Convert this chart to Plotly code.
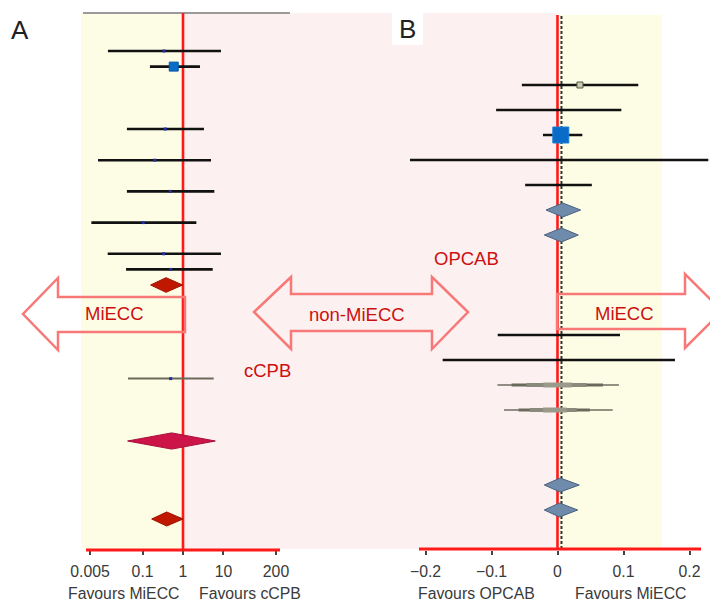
import plotly.graph_objects as go

W, H = 710, 602

# ---------------- Panel A data (odds ratio, log scale) ----------------
a_rows = [0, 1, 5, 7, 9, 11, 13, 14]
a_est = [0.34, 0.59, 0.365, 0.20, 0.485, 0.104, 0.333, 0.496]
a_lo = [0.0139, 0.152, 0.041, 0.0079, 0.041, 0.0054, 0.0137, 0.039]
a_hi = [8.7, 2.63, 3.3, 4.93, 5.96, 2.14, 8.7, 5.43]
a_big_idx = 1  # study with large weight

a_grey_row = [21]
a_grey_est = [0.496]
a_grey_lo = [0.0435]
a_grey_hi = [5.75]

a_dia_rows = [15, 25, 30]
a_dia_est = [0.38, 0.525, 0.395]
a_dia_lo = [0.158, 0.0426, 0.168]
a_dia_hi = [0.98, 6.3, 1.0]

a_ticks = [0.005, 0.1, 1, 10, 200]
a_ticktext = ["0.005", "0.1", "1", "10", "200"]

# ---------------- Panel B data (risk difference) ----------------
b_rows = [0, 1, 2, 3, 4, 10, 11]
b_est = [0.034, 0.006, 0.005, 0.0, 0.002, 0.005, 0.002]
b_lo = [-0.054, -0.093, -0.022, -0.2235, -0.049, -0.0906, -0.174]
b_hi = [0.1224, 0.0967, 0.0376, 0.2285, 0.052, 0.0947, 0.178]
b_big_idx = 2

b_fun_rows = [12, 13]
b_fun_lo = [-0.091, -0.081]
b_fun_hi = [0.093, 0.0836]
b_fun_seg1 = [(-0.0695, 0.069), (-0.059, 0.049)]
b_fun_seg2 = [(-0.047, 0.044), (-0.042, 0.029)]
b_fun_seg3 = [(-0.0215, 0.0215), (-0.022, 0.014)]

b_dia_rows = [5, 6, 16, 17]
b_dia_est = [0.008, 0.006, 0.004, 0.003]
b_dia_lo = [-0.0174, -0.02, -0.02, -0.02]
b_dia_hi = [0.035, 0.0315, 0.033, 0.0306]
b_overall = 0.006

b_ticks = [-0.2, -0.1, 0, 0.1, 0.2]
b_ticktext = ["\u22120.2", "\u22120.1", "0", "0.1", "0.2"]


def px(x, y):
    return x / W, 1 - y / H


fig = go.Figure()

# ---- Panel A traces
for i, r in enumerate(a_rows):
    fig.add_trace(go.Scatter(x=[a_lo[i], a_hi[i]], y=[r, r], mode="lines",
                             line=dict(color="#111111", width=2.6),
                             xaxis="x", yaxis="y", showlegend=False, hoverinfo="skip"))
fig.add_trace(go.Scatter(x=[a_est[i] for i in range(len(a_rows)) if i != a_big_idx],
                         y=[a_rows[i] for i in range(len(a_rows)) if i != a_big_idx],
                         mode="markers", marker=dict(symbol="square", size=3, color="#2030a0"),
                         xaxis="x", yaxis="y", showlegend=False))
fig.add_trace(go.Scatter(x=[a_est[a_big_idx]], y=[a_rows[a_big_idx]], mode="markers",
                         marker=dict(symbol="square", size=9, color="#0a6cc8",
                                     line=dict(color="#0a5aa8", width=1)),
                         xaxis="x", yaxis="y", showlegend=False))
for i, r in enumerate(a_grey_row):
    fig.add_trace(go.Scatter(x=[a_grey_lo[i], a_grey_hi[i]], y=[r, r], mode="lines",
                             line=dict(color="#6a6a5a", width=2),
                             xaxis="x", yaxis="y", showlegend=False))
    fig.add_trace(go.Scatter(x=[a_grey_est[i]], y=[r], mode="markers",
                             marker=dict(symbol="square", size=3, color="#2030a0"),
                             xaxis="x", yaxis="y", showlegend=False))

a_dia_h = [0.47, 0.52, 0.45]
a_dia_fill = ["#c01800", "#cc1448", "#c01800"]
a_dia_edge = ["#a01000", "#a80c3a", "#a01000"]
for i, r in enumerate(a_dia_rows):
    h = a_dia_h[i]
    fig.add_trace(go.Scatter(
        x=[a_dia_lo[i], a_dia_est[i], a_dia_hi[i], a_dia_est[i], a_dia_lo[i]],
        y=[r, r - h, r, r + h, r], mode="lines", fill="toself",
        fillcolor=a_dia_fill[i], line=dict(color=a_dia_edge[i], width=1),
        xaxis="x", yaxis="y", showlegend=False))

# ---- Panel B traces
for i, r in enumerate(b_rows):
    fig.add_trace(go.Scatter(x=[b_lo[i], b_hi[i]], y=[r, r], mode="lines",
                             line=dict(color="#111111", width=2.6),
                             xaxis="x2", yaxis="y2", showlegend=False))
fig.add_trace(go.Scatter(x=[b_est[0]], y=[b_rows[0]], mode="markers",
                         marker=dict(symbol="square", size=6, color="#c8ccb0",
                                     line=dict(color="#555544", width=1)),
                         xaxis="x2", yaxis="y2", showlegend=False))
fig.add_trace(go.Scatter(x=[b_est[b_big_idx]], y=[b_rows[b_big_idx]], mode="markers",
                         marker=dict(symbol="square", size=16, color="#0a6cc8",
                                     line=dict(color="#1a80d8", width=1)),
                         xaxis="x2", yaxis="y2", showlegend=False))
for i, r in enumerate(b_fun_rows):
    fig.add_trace(go.Scatter(x=[b_fun_lo[i], b_fun_hi[i]], y=[r, r], mode="lines",
                             line=dict(color="#6e6e62", width=1.6),
                             xaxis="x2", yaxis="y2", showlegend=False))
    for seg, wdt, col in ((b_fun_seg1, 3, "#6a6a5c"), (b_fun_seg2, 4, "#8a8a7c"),
                          (b_fun_seg3, 5, "#9a9a8a")):
        fig.add_trace(go.Scatter(x=[seg[i][0], seg[i][1]], y=[r, r], mode="lines",
                                 line=dict(color=col, width=wdt),
                                 xaxis="x2", yaxis="y2", showlegend=False))

for i, r in enumerate(b_dia_rows):
    h = 0.28
    fig.add_trace(go.Scatter(
        x=[b_dia_lo[i], b_dia_est[i], b_dia_hi[i], b_dia_est[i], b_dia_lo[i]],
        y=[r, r - h, r, r + h, r], mode="lines", fill="toself",
        fillcolor="#6f8bac", line=dict(color="#4a6080", width=1),
        xaxis="x2", yaxis="y2", showlegend=False))

# ---- shapes
shapes = []
x0, y0 = px(81, 13); x1, y1 = px(183, 549)
shapes.append(dict(type="rect", xref="paper", yref="paper", x0=x0, x1=x1, y0=y1, y1=y0,
                   fillcolor="#fdfde6", line=dict(width=0), layer="below"))
x0, y0 = px(183, 13); x1, y1 = px(557, 549)
shapes.append(dict(type="rect", xref="paper", yref="paper", x0=x0, x1=x1, y0=y1, y1=y0,
                   fillcolor="#fdf0f0", line=dict(width=0), layer="below"))
x0, y0 = px(557, 15); x1, y1 = px(662, 549)
shapes.append(dict(type="rect", xref="paper", yref="paper", x0=x0, x1=x1, y0=y1, y1=y0,
                   fillcolor="#fdfde6", line=dict(width=0), layer="below"))
# top grey line of panel A
x0, y0 = px(83, 13); x1, _ = px(290, 13)
shapes.append(dict(type="line", xref="paper", yref="paper", x0=x0, x1=x1, y0=y0, y1=y0,
                   line=dict(color="#9a9a9a", width=2), layer="below"))
# B label white box
x0, y0 = px(392, 13); x1, y1 = px(423, 45)
shapes.append(dict(type="rect", xref="paper", yref="paper", x0=x0, x1=x1, y0=y1, y1=y0,
                   fillcolor="white", line=dict(width=0), layer="below"))
# red reference lines
shapes.append(dict(type="line", xref="x", yref="paper", x0=1, x1=1,
                   y0=px(0, 551)[1], y1=px(0, 13)[1],
                   line=dict(color="#ff1a1a", width=2.6), layer="below"))
shapes.append(dict(type="line", xref="x2", yref="paper", x0=0, x1=0,
                   y0=px(0, 550)[1], y1=px(0, 15)[1],
                   line=dict(color="#ff1a1a", width=2.6), layer="below"))
shapes.append(dict(type="line", xref="x2", yref="paper", x0=b_overall, x1=b_overall,
                   y0=px(0, 549)[1], y1=px(0, 15)[1],
                   line=dict(color="#333333", width=2, dash="3px,2px"), layer="below"))
# axis lines
shapes.append(dict(type="line", xref="paper", yref="paper", x0=px(86, 0)[0], x1=px(280, 0)[0],
                   y0=px(0, 550)[1], y1=px(0, 550)[1],
                   line=dict(color="#ff1a1a", width=3)))
shapes.append(dict(type="line", xref="paper", yref="paper", x0=px(419, 0)[0], x1=px(701, 0)[0],
                   y0=px(0, 549)[1], y1=px(0, 549)[1],
                   line=dict(color="#ff1a1a", width=3)))


def path(pts):
    s = ""
    for k, (x, y) in enumerate(pts):
        xx, yy = px(x, y)
        s += ("M" if k == 0 else "L") + f"{xx:.5f},{yy:.5f} "
    return s + "Z"


arrow_style = dict(type="path", xref="paper", yref="paper",
                   line=dict(color="#f87878", width=2.5), fillcolor="rgba(0,0,0,0)")
shapes.append(dict(path=path([(185, 297), (58, 297), (58, 278), (23, 314), (58, 350),
                              (58, 332), (185, 332)]), **arrow_style))
shapes.append(dict(path=path([(254, 312), (291, 277), (291, 294), (432, 294), (432, 277),
                              (468, 312), (432, 349), (432, 331), (291, 331), (291, 349)]),
                   **arrow_style))
shapes.append(dict(path=path([(557, 294), (685, 294), (685, 274), (722, 311), (685, 348),
                              (685, 329), (557, 329)]), **arrow_style))

# ---- annotations
red = "#cc1010"
grey = "#3a3a3a"
font_lbl = "Liberation Sans, Arial, sans-serif"
ann = []


def text(t, x, y, size, color, **kw):
    xx, yy = px(x, y)
    ann.append(dict(text=t, x=xx, y=yy, xref="paper", yref="paper", showarrow=False,
                    xanchor="center", yanchor="middle",
                    font=dict(size=size, color=color, family=font_lbl), **kw))


text("MiECC", 114, 313, 18.5, red)
text("non-MiECC", 357, 314, 18.5, red)
text("cCPB", 267, 370, 18.5, red)
text("OPCAB", 466, 258, 18.5, red)
text("MiECC", 624, 313, 18.5, red)
text("A", 20, 30, 26, "#222222")
text("B", 407, 29, 26, "#222222")
text("Favours MiECC", 124, 593, 15.8, grey)
text("Favours cCPB", 250, 593, 15.8, grey)
text("Favours OPCAB", 476, 593, 15.8, grey)
text("Favours MiECC", 630, 593, 15.8, grey)

ydom = [(H - 550) / H, (H - 13) / H]
fig.update_layout(
    width=W, height=H, margin=dict(l=0, r=0, t=0, b=0, pad=0, autoexpand=False),
    paper_bgcolor="white", plot_bgcolor="rgba(0,0,0,0)",
    shapes=shapes, annotations=ann,
    xaxis=dict(type="log", domain=[86 / W, 280 / W], range=[-2.4, 2.4], anchor="y",
               automargin=False,
               tickvals=a_ticks, ticktext=a_ticktext, showgrid=False, zeroline=False,
               ticks="outside", ticklen=4, tickwidth=2, tickcolor="#444444",
               ticklabelstandoff=3,
               tickfont=dict(size=15.8, color=grey, family=font_lbl)),
    yaxis=dict(domain=ydom, range=[(550 - 51) / 15.6, (13 - 51) / 15.6], anchor="x",
               automargin=False, visible=False),
    xaxis2=dict(domain=[405 / W, 1.0], range=[-152.5 / 660, 152.5 / 660], anchor="y2",
                automargin=False,
                tickvals=b_ticks, ticktext=b_ticktext, showgrid=False, zeroline=False,
                ticks="outside", ticklen=4, tickwidth=2, tickcolor="#444444",
                ticklabelstandoff=3,
                tickfont=dict(size=15.8, color=grey, family=font_lbl)),
    yaxis2=dict(domain=ydom, range=[(550 - 85) / 25, (13 - 85) / 25], anchor="x2",
                automargin=False, visible=False),
)

fig.write_html("out.html", config={"displayModeBar": False},
               post_script="document.body.style.margin='0';")
